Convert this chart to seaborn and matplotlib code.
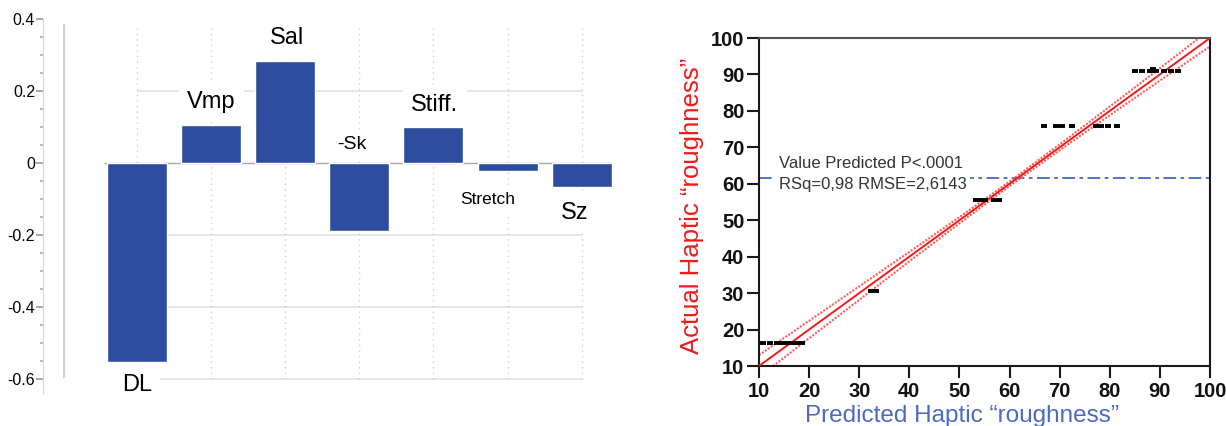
import matplotlib
matplotlib.use("Agg")
import matplotlib.pyplot as plt
from matplotlib.ticker import MultipleLocator, FixedLocator
import seaborn as sns
import pandas as pd

# ---- left panel: weights of the surface descriptors ----
descriptors = ["DL", "Vmp", "Sal", "-Sk", "Stiff.", "Stretch", "Sz"]
weights = [-0.553, 0.105, 0.283, -0.19, 0.10, -0.022, -0.067]
weight_ticks = [0.4, 0.2, 0, -0.2, -0.4, -0.6]
weight_tick_labels = ["0.4", "0.2", "0", "-0.2", "-0.4", "-0.6"]

# ---- right panel: actual vs predicted haptic roughness ----
predicted = [10.8, 12.2, 13.5, 14.5, 15.5, 16.5, 17.5, 18.5,
             32.3, 33.3,
             53.3, 54.3, 55.0, 56.8, 57.8,
             66.9, 69.2, 70.5, 72.5, 77.2, 78.3, 79.6, 81.4,
             85.0, 86.4, 88.0, 88.6, 89.2, 90.9, 92.3, 93.6, 88.6]
actual = [16.4] * 8 + [30.7] * 2 + [55.6] * 5 + [75.9] * 8 + [91.0] * 8 + [91.6]
fit_x = [10, 100]
fit_y = [10, 100]
band_x = [10, 20, 30, 40, 50, 60, 70, 80, 90, 100]
band_upper = [13.0, 22.4, 31.85, 41.3, 50.85, 60.6, 70.8, 81.2, 91.7, 102.3]
band_lower = [7.0, 17.6, 28.15, 38.7, 49.15, 59.4, 69.2, 78.8, 88.3, 97.7]
mean_actual = 61.5
axis_ticks = [10, 20, 30, 40, 50, 60, 70, 80, 90, 100]
stats_text = "Value Predicted P<.0001\nRSq=0,98 RMSE=2,6143"

sns.set_style("white")
plt.rcParams["font.family"] = ["Liberation Sans", "DejaVu Sans"]
plt.rcParams["axes.unicode_minus"] = False

W, H = 1226, 426
fig = plt.figure(figsize=(W / 100, H / 100), dpi=100)
fig.patch.set_facecolor("white")

# ================= left: bar chart =================
ax1 = fig.add_axes([62.8 / W, (H - 393) / H, 550 / W, 374 / H])
ax1.set_facecolor("white")
bar_blue = "#2e4d9e"

# grid: horizontal at major ticks, dotted vertical at each category
n = len(descriptors)
ax1.hlines([t for t in weight_ticks if t not in (0, 0.4)], 0, n - 1,
           colors="#e2e2e2", lw=1.2, zorder=0)
ax1.vlines(range(n), -0.6, 0.383, colors="#cfcfcf", lw=1.0,
           linestyles=(0, (1, 3)), zorder=0)
ax1.hlines([0], -0.45, n - 0.6, colors="#a8a8a8", lw=1.0, zorder=1)

df_w = pd.DataFrame({"descriptor": descriptors, "weight": weights})
sns.barplot(data=df_w, x="descriptor", y="weight", color=bar_blue,
            saturation=1, width=0.81, ax=ax1, zorder=3)

ax1.set_xlim(-1.0, 6.42)
ax1.set_ylim(-0.64, 0.40)
ax1.set_xlabel("")
ax1.set_ylabel("")
ax1.set_xticks([])
for s in ("top", "right", "bottom"):
    ax1.spines[s].set_visible(False)
ax1.spines["left"].set_position(("outward", 14))
ax1.spines["left"].set_color("#d6d6d6")
ax1.spines["left"].set_linewidth(0.8)
ax1.yaxis.set_major_locator(FixedLocator(weight_ticks))
ax1.set_yticklabels(weight_tick_labels)
ax1.yaxis.set_minor_locator(MultipleLocator(0.05))
ax1.tick_params(axis="y", which="major", length=5, width=1.2, color="#9a9a9a",
                labelsize=11.5, labelcolor="black", pad=1, left=True)
ax1.tick_params(axis="y", which="minor", length=2, width=1.2, color="#aaaaaa",
                left=True)
# light double rule at the plot edge
ax1.axvline(-1.0, ymin=0.045, ymax=0.984, color="#d4d4d4", lw=2.5, zorder=1)

# descriptor names placed beside their bars
label_spec = {
    "DL": (0.0, -0.619, 17),
    "Vmp": (1.0, 0.169, 17),
    "Sal": (2.02, 0.347, 17),
    "-Sk": (2.9, 0.05, 14),
    "Stiff.": (4.02, 0.161, 17),
    "Stretch": (4.73, -0.103, 12.5),
    "Sz": (5.9, -0.139, 17),
}
for name in descriptors:
    x, y, fs = label_spec[name]
    ax1.text(x, y, name, ha="center", va="center", fontsize=fs, color="black",
             zorder=2,
             bbox=dict(boxstyle="square,pad=0.35", fc="white", ec="none"))

# ================= right: actual by predicted =================
ax2 = fig.add_axes([759 / W, (H - 366) / H, 451 / W, 328 / H])
ax2.set_facecolor("white")
red = "#f01a1a"
band_red = "#ff5c5c"
mean_blue = "#4a63c0"

ax2.axhline(mean_actual, color=mean_blue, lw=1.3,
            linestyle=(0, (7, 2.5, 2, 2.5)), zorder=1)
sns.lineplot(x=band_x, y=band_upper, color=band_red, lw=1.5,
             linestyle=(0, (1, 0.7)), ax=ax2, zorder=2)
sns.lineplot(x=band_x, y=band_lower, color=band_red, lw=1.5,
             linestyle=(0, (1, 0.7)), ax=ax2, zorder=2)
sns.lineplot(x=fit_x, y=fit_y, color=red, lw=1.4, ax=ax2, zorder=3)

df_p = pd.DataFrame({"predicted": predicted, "actual": actual})
sns.scatterplot(data=df_p, x="predicted", y="actual", marker="_", s=16,
                linewidth=2.8, color="black", ax=ax2, zorder=5)

ax2.text(13.9, 62.7, stats_text, ha="left", va="center", fontsize=12,
         color="#333333", linespacing=1.55, zorder=4,
         bbox=dict(boxstyle="square,pad=0.2", fc="white", ec="none"))

ax2.set_xlim(10, 100)
ax2.set_ylim(10, 100)
ax2.set_xticks(axis_ticks)
ax2.set_yticks(axis_ticks)
for s in ax2.spines.values():
    s.set_visible(True)
    s.set_color("#1a1a1a")
    s.set_linewidth(1.5)
ax2.spines["top"].set_color("#555555")
ax2.tick_params(axis="both", which="major", direction="out", length=8.6,
                width=1.5, color="#1a1a1a", labelsize=14.5, labelcolor="#111111",
                bottom=True, left=True)
ax2.tick_params(axis="x", pad=3)
ax2.tick_params(axis="y", pad=2)
for lab in ax2.get_xticklabels() + ax2.get_yticklabels():
    lab.set_fontweight("bold")

ax2.set_xlabel("Predicted Haptic \u201croughness\u201d", fontsize=17.5,
               color="#4a6bc0", va="center")
ax2.xaxis.set_label_coords(0.45, -0.152)
ax2.set_ylabel("Actual Haptic \u201croughness\u201d", fontsize=18.5,
               color=red, va="center")
ax2.yaxis.set_label_coords(-0.1486, 0.488)

fig.savefig("out.png", dpi=100, facecolor="white")
